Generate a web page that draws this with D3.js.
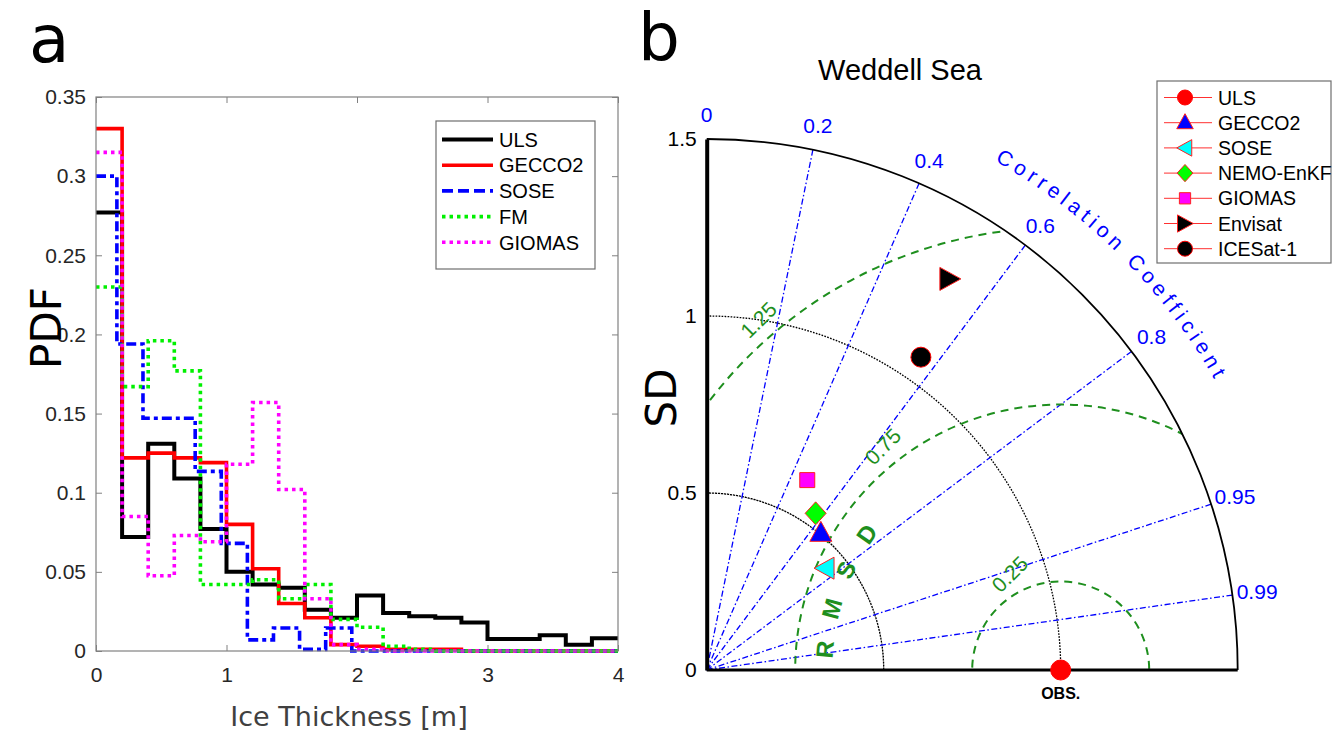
<!DOCTYPE html>
<html>
<head>
<meta charset="utf-8">
<script src="https://cdn.jsdelivr.net/npm/d3@7"></script>
<style>
  body { margin: 0; background: #fff; }
  svg { display: block; font-family: "Liberation Sans", Arial, sans-serif; }
</style>
</head>
<body>
<svg id="chart" width="1333" height="734"></svg>
<script>
'use strict';

// ---- panel a : thickness PDFs ----
const thickEdges = [0, 0.2, 0.4, 0.6, 0.8, 1.0, 1.2, 1.4, 1.6, 1.8, 2.0,
  2.2, 2.4, 2.6, 2.8, 3.0, 3.2, 3.4, 3.6, 3.8, 4.0];
const soseEdges = [0, 0.16, 0.36, 0.56, 0.76, 0.96, 1.16, 1.36, 1.56, 1.76, 1.96,
  2.16, 2.36, 2.56, 2.76, 2.96, 3.16, 3.36, 3.56, 3.76, 3.96, 4.0];

const ulsPdf = [0.277, 0.072, 0.131, 0.109, 0.077, 0.050, 0.042, 0.040, 0.026, 0.021,
  0.035, 0.024, 0.022, 0.021, 0.018, 0.0076, 0.0076, 0.010, 0.004, 0.008];
const gecco2Pdf = [0.330, 0.122, 0.125, 0.122, 0.119, 0.080, 0.052, 0.030, 0.021, 0.004,
  0.003, 0.001, 0.001, 0.001, 0, 0, 0, 0, 0, 0];
const sosePdf = [0.300, 0.194, 0.147, 0.147, 0.1135, 0.068, 0.007, 0.0145, 0.001, 0.0145,
  0, 0, 0, 0, 0, 0, 0, 0, 0, 0, 0];
const fmPdf = [0.230, 0.167, 0.196, 0.177, 0.042, 0.042, 0.045, 0.033, 0.042, 0.020,
  0.015, 0.003, 0.001, 0, 0, 0, 0, 0, 0, 0];
const giomasPdf = [0.315, 0.085, 0.0475, 0.073, 0.069, 0.118, 0.157, 0.102, 0.033, 0.004,
  0.001, 0, 0, 0, 0, 0, 0, 0, 0, 0];

const histNames = ['ULS', 'GECCO2', 'SOSE', 'FM', 'GIOMAS'];
const xTicks = [0, 1, 2, 3, 4];
const yTicks = [0, 0.05, 0.1, 0.15, 0.2, 0.25, 0.3, 0.35];

// ---- panel b : Taylor diagram ----
const taylorNames = ['ULS', 'GECCO2', 'SOSE', 'NEMO-EnKF', 'GIOMAS', 'Envisat', 'ICESat-1'];
const taylorSD = [1.0, 0.503, 0.441, 0.539, 0.607, 1.301, 1.071];
const taylorCorr = [1.0, 0.641, 0.758, 0.571, 0.468, 0.528, 0.565];
const corrTicks = [0, 0.2, 0.4, 0.6, 0.8, 0.95, 0.99];
const sdTicks = [0, 0.5, 1, 1.5];
const sdCircles = [0.5, 1.0];
const rmsCircles = [0.25, 0.75, 1.25];

const svg = d3.select('#chart');
const defs = svg.append('defs');

// ================= panel a =================
const x = d3.scaleLinear().domain([0, 4]).range([96, 618]);
const y = d3.scaleLinear().domain([0, 0.35]).range([651, 97]);

const histStyles = [
  { color: '#000000', width: 4, dash: null, edges: thickEdges, values: ulsPdf },
  { color: '#ff0000', width: 3.6, dash: null, edges: thickEdges, values: gecco2Pdf },
  { color: '#0000ff', width: 3.6, dash: '10,4,4,4', edges: soseEdges, values: sosePdf },
  { color: '#00f000', width: 3.6, dash: '3.5,4', edges: thickEdges, values: fmPdf },
  { color: '#ff00ff', width: 3.6, dash: '3.5,4', edges: thickEdges, values: giomasPdf },
];

const gA = svg.append('g').attr('id', 'panel-a');

// axes (MATLAB style: ticks inside, box on)
const axisGrey = '#808080';
const tickText = '#262626';

gA.append('g')
  .attr('transform', 'translate(0,651)')
  .call(d3.axisBottom(x).tickValues(xTicks).tickFormat(d3.format('d'))
    .tickSizeInner(-6).tickSizeOuter(0).tickPadding(16))
  .call(g => g.select('.domain').remove());
gA.append('g')
  .attr('transform', 'translate(0,97)')
  .call(d3.axisTop(x).tickValues(xTicks).tickFormat('')
    .tickSizeInner(-6).tickSizeOuter(0))
  .call(g => g.select('.domain').remove());
gA.append('g')
  .attr('transform', 'translate(96,0)')
  .call(d3.axisLeft(y).tickValues(yTicks).tickFormat(d3.format('~g'))
    .tickSizeInner(-6).tickSizeOuter(0).tickPadding(10))
  .call(g => g.select('.domain').remove());
gA.append('g')
  .attr('transform', 'translate(618,0)')
  .call(d3.axisRight(y).tickValues(yTicks).tickFormat('')
    .tickSizeInner(-6).tickSizeOuter(0))
  .call(g => g.select('.domain').remove());

gA.selectAll('.tick line').attr('stroke', axisGrey);
gA.selectAll('.tick text')
  .attr('fill', tickText)
  .style('font-size', '21px')
  .style('font-family', '"Liberation Sans", Arial, sans-serif');

// step lines
const stepLine = d3.line()
  .x(d => x(d[0]))
  .y(d => y(d[1]))
  .curve(d3.curveStepAfter);

histStyles.forEach(function(s) {
  const pts = s.values.map((v, i) => [s.edges[i], v]);
  pts.push([s.edges[s.edges.length - 1], s.values[s.values.length - 1]]);
  gA.append('path')
    .attr('d', stepLine(pts))
    .attr('fill', 'none')
    .attr('stroke', s.color)
    .attr('stroke-width', s.width)
    .attr('stroke-dasharray', s.dash);
});

// box
gA.append('rect')
  .attr('x', 96).attr('y', 97)
  .attr('width', 522).attr('height', 554)
  .attr('fill', 'none')
  .attr('stroke', axisGrey)
  .attr('stroke-width', 1.2);

// legend
const legA = gA.append('g').attr('transform', 'translate(436,121)');
legA.append('rect')
  .attr('width', 159).attr('height', 148)
  .attr('fill', '#fff')
  .attr('stroke', '#6e6e6e')
  .attr('stroke-width', 1.2);
histNames.forEach(function(name, i) {
  const s = histStyles[i];
  const yy = 18.5 + i * 25.7;
  legA.append('line')
    .attr('x1', 6).attr('x2', 57)
    .attr('y1', yy).attr('y2', yy)
    .attr('stroke', s.color)
    .attr('stroke-width', s.width)
    .attr('stroke-dasharray', i === 2 ? '11,5' : s.dash);
  legA.append('text')
    .attr('x', 63).attr('y', yy)
    .attr('dy', '0.36em')
    .attr('fill', '#000')
    .style('font-size', '20px')
    .text(name);
});

// labels
gA.append('text')
  .attr('x', 349).attr('y', 726)
  .attr('text-anchor', 'middle')
  .attr('fill', '#404040')
  .style('font-family', '"DejaVu Sans", sans-serif')
  .style('font-size', '27px')
  .text('Ice Thickness [m]');
gA.append('text')
  .attr('transform', 'translate(61,328) rotate(-90)')
  .attr('text-anchor', 'middle')
  .attr('fill', '#000')
  .style('font-family', '"DejaVu Sans", sans-serif')
  .style('font-size', '42px')
  .text('PDF');
gA.append('text')
  .attr('x', 29).attr('y', 62)
  .attr('fill', '#000')
  .style('font-family', '"DejaVu Sans", sans-serif')
  .style('font-size', '66px')
  .text('a');

// ================= panel b =================
const cx = 706.7;
const cy = 670;
const r = d3.scaleLinear().domain([0, 1.5]).range([0, 531]);
const R = r(1.5);

function polar(sd, c) {
  const a = Math.acos(c);
  return [cx + r(sd) * Math.cos(a), cy - r(sd) * Math.sin(a)];
}

const gB = svg.append('g').attr('id', 'panel-b');

// clip for RMS arcs: the quarter disc of the diagram
defs.append('clipPath').attr('id', 'quarter')
  .append('path')
  .attr('d', `M${cx},${cy} L${cx},${cy - R} A${R},${R} 0 0 1 ${cx + R},${cy} Z`);

// SD circles (dotted)
const arcGen = d3.arc().startAngle(0).endAngle(Math.PI / 2);
sdCircles.forEach(function(sd) {
  gB.append('path')
    .attr('transform', `translate(${cx},${cy})`)
    .attr('d', arcGen({ innerRadius: r(sd), outerRadius: r(sd) }))
    .attr('fill', 'none')
    .attr('stroke', '#000')
    .attr('stroke-width', 1.3)
    .attr('stroke-dasharray', '1.5,1.5');
});

// correlation rays
corrTicks.filter(c => c > 0).forEach(function(c) {
  const p = polar(1.5, c);
  gB.append('line')
    .attr('x1', cx).attr('y1', cy)
    .attr('x2', p[0]).attr('y2', p[1])
    .attr('stroke', '#0000ff')
    .attr('stroke-width', 1.3)
    .attr('stroke-dasharray', '6,2.5,1.5,2.5');
});

// RMS circles around OBS
const obs = polar(1.0, 1.0);
const rmsG = gB.append('g').attr('clip-path', 'url(#quarter)');
rmsCircles.forEach(function(rm) {
  rmsG.append('circle')
    .attr('cx', obs[0]).attr('cy', obs[1])
    .attr('r', r(rm))
    .attr('fill', 'none')
    .attr('stroke', '#1e8f1e')
    .attr('stroke-width', 2)
    .attr('stroke-dasharray', '8,6');
});

// RMS labels
const rmsLabelAngle = [118, 128.5, 130.8];
rmsCircles.forEach(function(rm, i) {
  const a = rmsLabelAngle[i] * Math.PI / 180;
  const d = r(rm) + 20;
  const px = obs[0] + d * Math.cos(a);
  const py = obs[1] - d * Math.sin(a);
  gB.append('text')
    .attr('transform', `translate(${px},${py}) rotate(-45)`)
    .attr('text-anchor', 'middle')
    .attr('dy', '0.35em')
    .attr('fill', '#1e8f1e')
    .style('font-size', '21px')
    .text(d3.format('~g')(rm));
});

// "RMSD" letters along an inner arc
const rmsdAngles = [175, 165, 155, 145];
'RMSD'.split('').forEach(function(ch, i) {
  const a = rmsdAngles[i] * Math.PI / 180;
  const px = obs[0] + 237 * Math.cos(a);
  const py = obs[1] - 237 * Math.sin(a);
  gB.append('text')
    .attr('transform', `translate(${px},${py}) rotate(${-(rmsdAngles[i] - 90)})`)
    .attr('text-anchor', 'middle')
    .attr('dy', '0.36em')
    .attr('fill', '#1e8f1e')
    .style('font-size', '24px')
    .style('font-weight', 'bold')
    .text(ch);
});

// outer arc and axes
gB.append('path')
  .attr('transform', `translate(${cx},${cy})`)
  .attr('d', arcGen({ innerRadius: R, outerRadius: R }))
  .attr('fill', 'none')
  .attr('stroke', '#000')
  .attr('stroke-width', 1.8);
gB.append('line')
  .attr('x1', cx).attr('y1', cy)
  .attr('x2', cx + R).attr('y2', cy)
  .attr('stroke', '#000').attr('stroke-width', 3);

const sdAxis = d3.scaleLinear().domain([0, 1.5]).range([cy, cy - R]);
gB.append('g')
  .attr('transform', `translate(${cx},0)`)
  .call(d3.axisLeft(sdAxis).tickValues(sdTicks).tickFormat(d3.format('~g'))
    .tickSize(0).tickPadding(10))
  .call(g => g.select('.domain').attr('stroke', '#000').attr('stroke-width', 4))
  .call(g => g.selectAll('text')
    .attr('fill', '#000')
    .style('font-size', '21px')
    .style('font-family', '"Liberation Sans", Arial, sans-serif'));

// correlation labels
corrTicks.forEach(function(c) {
  const a = Math.acos(c);
  const d = R + 25;
  gB.append('text')
    .attr('x', cx + d * Math.cos(a))
    .attr('y', cy - d * Math.sin(a))
    .attr('text-anchor', 'middle')
    .attr('dy', '0.36em')
    .attr('fill', '#0000ff')
    .style('font-size', '21px')
    .text(d3.format('~g')(c));
});

// "Correlation Coefficient" along the arc
const tr = 585;
const a0 = 60.5 * Math.PI / 180;
const a1 = 26 * Math.PI / 180;
defs.append('path')
  .attr('id', 'corrPath')
  .attr('d', `M${cx + tr * Math.cos(a0)},${cy - tr * Math.sin(a0)} ` +
    `A${tr},${tr} 0 0 1 ${cx + tr * Math.cos(a1)},${cy - tr * Math.sin(a1)}`);
gB.append('text')
  .attr('fill', '#0000ff')
  .style('font-size', '21px')
  .style('letter-spacing', '4.8px')
  .append('textPath')
  .attr('href', '#corrPath')
  .text('Correlation Coefficient');

// markers
const shapes = {
  up: s => `M0,${-12 * s} L${11 * s},${8 * s} L${-11 * s},${8 * s} Z`,
  left: s => `M${-11 * s},0 L${9 * s},${-11 * s} L${9 * s},${11 * s} Z`,
  diamond: s => `M0,${-11.5 * s} L${10.5 * s},0 L0,${11.5 * s} L${-10.5 * s},0 Z`,
  square: s => `M${-7.5 * s},${-7.5 * s} h${15 * s} v${15 * s} h${-15 * s} Z`,
  right: s => `M${11 * s},0 L${-10 * s},${-11.5 * s} L${-10 * s},${11.5 * s} Z`,
};
const markerShape = ['circle', 'up', 'left', 'diamond', 'square', 'right', 'circle'];
const markerFill = ['#ff0000', '#0000ff', '#00ffff', '#00ff00', '#ff00ff', '#000000', '#000000'];

function drawMarker(g, i, px, py, s) {
  const k = markerShape[i];
  if (k === 'circle') {
    g.append('circle')
      .attr('cx', px).attr('cy', py).attr('r', 10 * s)
      .attr('fill', markerFill[i])
      .attr('stroke', '#ff0000').attr('stroke-width', 1);
  } else {
    g.append('path')
      .attr('transform', `translate(${px},${py})`)
      .attr('d', shapes[k](s))
      .attr('fill', markerFill[i])
      .attr('stroke', '#ff2020').attr('stroke-width', 1);
  }
}

taylorNames.forEach(function(name, i) {
  const p = polar(taylorSD[i], taylorCorr[i]);
  drawMarker(gB, i, p[0], p[1], 1);
});

gB.append('text')
  .attr('x', obs[0]).attr('y', obs[1] + 29)
  .attr('text-anchor', 'middle')
  .attr('fill', '#000')
  .style('font-size', '16px')
  .style('font-weight', 'bold')
  .text('OBS.');

// title and labels
gB.append('text')
  .attr('x', 900).attr('y', 80)
  .attr('text-anchor', 'middle')
  .attr('fill', '#000')
  .style('font-size', '29px')
  .text('Weddell Sea');
gB.append('text')
  .attr('transform', 'translate(676,398) rotate(-90)')
  .attr('text-anchor', 'middle')
  .attr('fill', '#000')
  .style('font-family', '"DejaVu Sans", sans-serif')
  .style('font-size', '42px')
  .text('SD');
gB.append('text')
  .attr('x', 638).attr('y', 60)
  .attr('fill', '#000')
  .style('font-family', '"DejaVu Sans", sans-serif')
  .style('font-size', '66px')
  .text('b');

// Taylor legend
const legB = gB.append('g').attr('transform', 'translate(1157,81)');
legB.append('rect')
  .attr('width', 174).attr('height', 182)
  .attr('fill', '#fff')
  .attr('stroke', '#6e6e6e')
  .attr('stroke-width', 1.2);
taylorNames.forEach(function(name, i) {
  const yy = 16.5 + i * 25.2;
  legB.append('line')
    .attr('x1', 7).attr('x2', 55)
    .attr('y1', yy).attr('y2', yy)
    .attr('stroke', '#ff3030').attr('stroke-width', 1);
  drawMarker(legB, i, 28, yy, 0.75);
  legB.append('text')
    .attr('x', 61).attr('y', yy)
    .attr('dy', '0.36em')
    .attr('fill', '#000')
    .style('font-size', '19.5px')
    .text(name);
});
</script>
</body>
</html>
